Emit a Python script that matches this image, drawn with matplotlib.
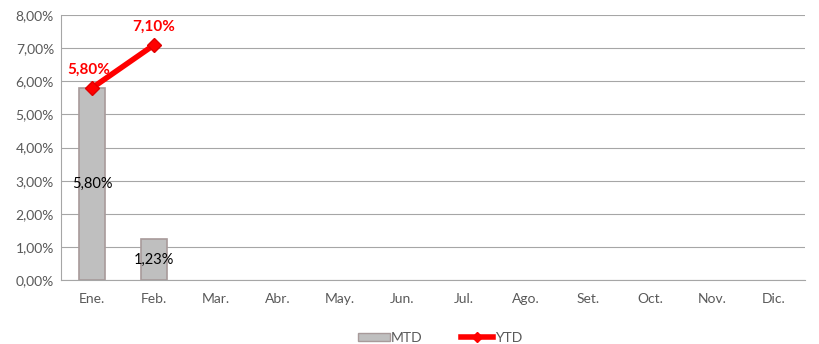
import matplotlib.pyplot as plt
from matplotlib.lines import Line2D
from matplotlib.patches import Patch

plt.rcParams['font.family'] = ['Lato', 'DejaVu Sans']

meses = ['Ene.', 'Feb.', 'Mar.', 'Abr.', 'May.', 'Jun.', 'Jul.', 'Ago.', 'Set.', 'Oct.', 'Nov.', 'Dic.']
mtd = [5.80, 1.23]
ytd = [5.80, 7.10]

def pct(v):
    return f'{v:.2f}%'.replace('.', ',')

fig = plt.figure(figsize=(8.19, 3.44), dpi=100)
ax = fig.add_axes([0.0745, 0.186, 0.9085, 0.770])

x = list(range(len(meses)))
bars = ax.bar(x[:len(mtd)], mtd, width=0.42, color='#BFBFBF', edgecolor='#A89A9A',
              linewidth=1.2, zorder=2)
for b, v in zip(bars, mtd):
    ax.text(b.get_x() + b.get_width() / 2, v / 2, pct(v), ha='center', va='center',
            fontsize=10.5, color='black', zorder=4)

ax.plot(x[:len(ytd)], ytd, color='#FF0000', linewidth=4, marker='D', markersize=7,
        markerfacecolor='#FF0000', markeredgecolor='#E00000', zorder=3)
ax.text(x[0] - 0.05, ytd[0] + 0.35, pct(ytd[0]), ha='center', va='bottom',
        fontsize=11, fontweight='bold', color='#FF0000')
ax.text(x[1], ytd[1] + 0.35, pct(ytd[1]), ha='center', va='bottom',
        fontsize=11, fontweight='bold', color='#FF0000')

ax.set_xlim(-0.5, len(meses) - 0.5)
ax.set_ylim(0, 8)
ax.set_yticks(range(0, 9))
ax.set_yticklabels([pct(v) for v in range(0, 9)])
ax.set_xticks(x)
ax.set_xticklabels(meses)
ax.tick_params(axis='both', length=0, labelsize=10, colors='#595959')
ax.tick_params(axis='x', pad=9)
ax.tick_params(axis='y', pad=5)
ax.grid(axis='y', color='#A6A6A6', linewidth=0.8, zorder=0)
ax.set_axisbelow(True)
for s in ['top', 'right']:
    ax.spines[s].set_visible(False)
ax.spines['left'].set_color('#A6A6A6')
ax.spines['bottom'].set_color('#A6A6A6')

handles = [Patch(facecolor='#BFBFBF', edgecolor='#A89A9A', label='MTD'),
           Line2D([0], [0], color='#FF0000', linewidth=4, marker='D', markersize=5,
                  label='YTD')]
fig.legend(handles=handles, loc='lower center', bbox_to_anchor=(0.537, -0.035), ncol=2,
           frameon=False, fontsize=10, handlelength=2.3, handleheight=0.5,
           handletextpad=0.1, columnspacing=2.8, labelcolor='#595959')

fig.savefig('out.png', dpi=100)
